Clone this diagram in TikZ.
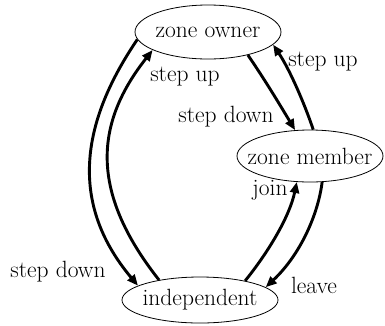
\documentclass[tikz,border=0pt]{standalone}
\usetikzlibrary{shapes.geometric,arrows.meta}
\begin{document}
\begin{tikzpicture}[x=1pt,y=-1pt,
  every node/.style={font=\fontsize{23.5}{27}\selectfont},
  state/.style={draw, ellipse, line width=0.8pt, inner sep=0pt},
  trans/.style={line width=2.9pt, -{Triangle[length=11pt,width=9pt]}},
  lbl/.style={inner sep=0pt}]
\useasboundingbox (0,0) rectangle (385,325);
% states
\node[state, minimum width=146pt, minimum height=54pt] (zo) at (208,32) {\makebox[0pt]{zone owner}};
\node[state, minimum width=146pt, minimum height=52pt] (zm) at (310,156) {\makebox[0pt]{zone member}};
\node[state, minimum width=156pt, minimum height=46pt] (ind) at (200,300) {\makebox[0pt]{independent}};
% owner <-> independent
\draw[trans] (zo.186) .. controls (84,118) and (66,200) .. (ind.167);
\draw[trans] (ind.154) .. controls (88,190) and (96,122) .. (zo.198);
% owner <-> member
\draw[trans] (zo.-30) .. controls (265,80) and (280,105) .. (zm.120);
\draw[trans] (zm.83) .. controls (305,105) and (290,70) .. (zo.-11);
% member <-> independent
\draw[trans] (ind.23) .. controls (270,250) and (290,215) .. (zm.243);
\draw[trans] (zm.-65) .. controls (318,215) and (300,255) .. (ind.11);
% labels
\node[lbl] (l1) at (185,77) {step up};
\node[lbl] (l2) at (58,272) {step down};
\node[lbl] (l3) at (226,117) {step down};
\node[lbl] (l4) at (323,62) {step up};
\node[lbl] (l5) at (270,190) {join};
\node[lbl] (l6) at (314,285) {leave};
\end{tikzpicture}
\end{document}
